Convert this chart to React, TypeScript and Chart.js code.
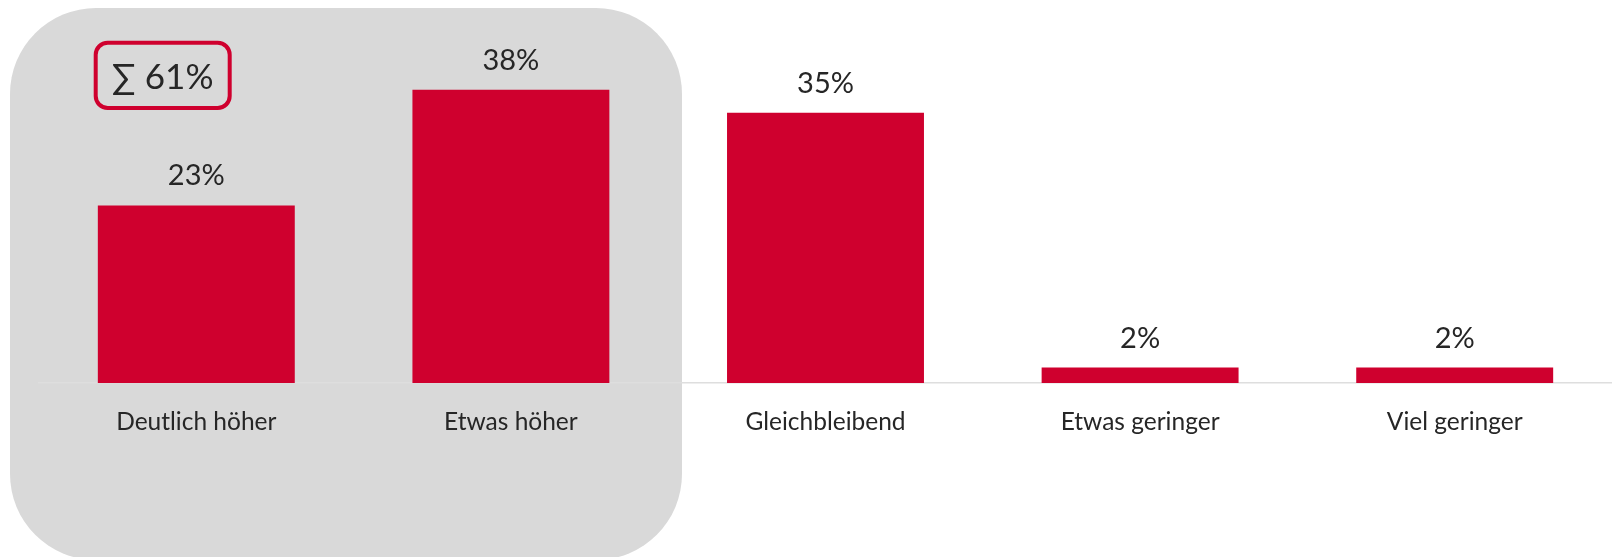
import React, { useEffect, useRef } from "react";
import { Chart, registerables } from "chart.js";
Chart.register(...registerables);

const categories = ["Deutlich höher", "Etwas höher", "Gleichbleibend", "Etwas geringer", "Viel geringer"];
const values = [23, 38, 35, 2, 2];
const highlightedIdx = [0, 1];

const RED = "#cf002e";
const GREY = "#d9d9d9";
const AXIS = "#dedede";
const TEXT = "#262626";
const FONT = "Lato, 'Open Sans', sans-serif";

const W = 1612;
const H = 557;

function rr(ctx: CanvasRenderingContext2D, x: number, y: number, w: number, h: number, r: number) {
  ctx.beginPath();
  ctx.moveTo(x + r, y);
  ctx.lineTo(x + w - r, y);
  ctx.arcTo(x + w, y, x + w, y + r, r);
  ctx.lineTo(x + w, y + h - r);
  ctx.arcTo(x + w, y + h, x + w - r, y + h, r);
  ctx.lineTo(x + r, y + h);
  ctx.arcTo(x, y + h, x, y + h - r, r);
  ctx.lineTo(x, y + r);
  ctx.arcTo(x, y, x + r, y, r);
  ctx.closePath();
}

export default function App() {
  const ref = useRef<HTMLCanvasElement>(null);
  useEffect(() => {
    document.body.style.margin = "0";
    const plugin = {
      id: "decor",
      beforeDraw(chart: any) {
        const ctx = chart.ctx as CanvasRenderingContext2D;
        ctx.save();
        ctx.fillStyle = GREY;
        rr(ctx, 10, 8, 672, 552, 86);
        ctx.fill();
        ctx.restore();
      },
      afterDatasetsDraw(chart: any) {
        const ctx = chart.ctx as CanvasRenderingContext2D;
        const meta = chart.getDatasetMeta(0);
        ctx.save();
        ctx.fillStyle = TEXT;
        ctx.font = `29px ${FONT}`;
        ctx.textAlign = "center";
        ctx.textBaseline = "alphabetic";
        meta.data.forEach((bar: any, i: number) => {
          ctx.fillText(`${values[i]}%`, bar.x, bar.y - 20);
        });
        // sum box
        const sum = highlightedIdx.reduce((a, i) => a + values[i], 0);
        ctx.strokeStyle = RED;
        ctx.lineWidth = 4;
        rr(ctx, 95.7, 42.7, 134, 65.3, 12);
        ctx.stroke();
        ctx.font = `35px ${FONT}`;
        ctx.textBaseline = "alphabetic";
        ctx.fillText(`∑ ${sum}%`, 162.7, 89);
        ctx.restore();
      },
    };
    const chart = new Chart(ref.current!, {
      type: "bar",
      data: {
        labels: categories,
        datasets: [
          {
            data: values,
            backgroundColor: RED,
            borderWidth: 0,
            barPercentage: 0.626,
            categoryPercentage: 1,
          },
        ],
      },
      options: {
        animation: false,
        responsive: false,
        devicePixelRatio: 1,
        layout: { padding: { left: 39, right: 0, top: 35.6, bottom: 0 } },
        plugins: { legend: { display: false }, tooltip: { enabled: false } },
        scales: {
          y: { display: false, min: 0, max: 45 },
          x: {
            grid: { display: false, drawTicks: false },
            border: { display: true, color: AXIS, width: 1.5 },
            ticks: { color: TEXT, font: { family: FONT, size: 24.5 }, padding: 24, maxRotation: 0, autoSkip: false },
            afterFit: (scale: any) => {
              scale.height = H - 383;
            },
          },
        },
      },
      plugins: [plugin],
    });
    return () => chart.destroy();
  }, []);
  return (
    <div style={{ width: W, height: H }}>
      <canvas ref={ref} width={W} height={H} style={{ display: "block" }} />
    </div>
  );
}
